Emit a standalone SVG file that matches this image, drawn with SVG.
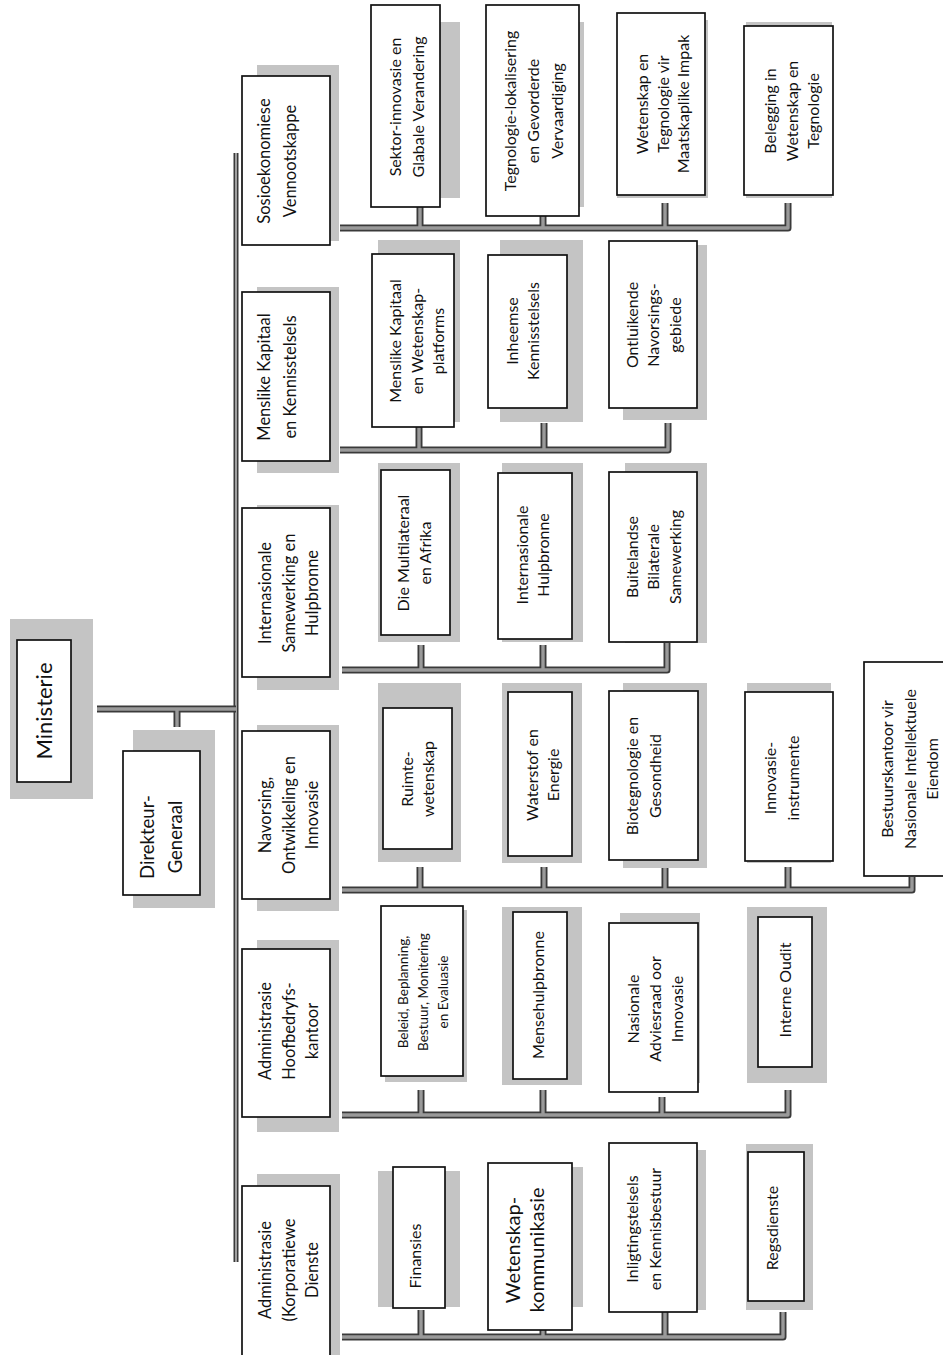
<svg xmlns="http://www.w3.org/2000/svg" xmlns:xlink="http://www.w3.org/1999/xlink" width="943" height="1355" viewBox="0 0 943 1355">
<style>
.bg{fill:#fff}
.box{fill:#fff;stroke:#111;stroke-width:1.7}
.sh{fill:#c4c4c4}
.t{font-family:Lato,"Liberation Sans",sans-serif;fill:#111;text-anchor:middle}
.c{font-size:16px}
.l1{font-size:16.5px}
.co{fill:none;stroke:#3a3a3a;stroke-width:7;stroke-linejoin:round}
.ci{fill:none;stroke:#9a9a9a;stroke-width:3.4;stroke-linejoin:round}
.tro{fill:none;stroke:#3a3a3a;stroke-width:5}
.tri{fill:none;stroke:#a0a0a0;stroke-width:2}
</style>
<defs>
<path id="lines" d="M97,709 H236 M177,709 V727
M340,228 H788 V203 M420,207 V228 M543,216 V228 M665,203 V228
M340,450 H668 V423 M419,427 V450 M544,423 V450
M342,670 H667 V643 M421,645 V670 M543,645 V670
M342,890 H912 V877 M420,867 V890 M544,867 V890 M665,867 V890 M788,867 V890
M342,1115 H788 V1090 M421,1090 V1115 M543,1090 V1115 M662,1097 V1115
M342,1337 H783 V1312 M421,1310 V1337 M543,1330 V1337 M665,1312 V1337"/>
<path id="trunk" d="M236,153 V1262"/>
</defs>
<rect class="bg" x="0" y="0" width="943" height="1355"/>

<g id="connectors">
<use xlink:href="#trunk" class="tro"/>
<use xlink:href="#trunk" class="tri"/>
<use xlink:href="#lines" class="co"/>
<use xlink:href="#lines" class="ci"/>
</g>

<g id="ministerie">
<rect class="sh" x="10" y="619" width="83" height="180"/>
<rect class="box" x="17" y="640" width="54" height="142"/>
<text class="t" style="font-size:22px" transform="translate(0,711) rotate(-90)"><tspan x="0" y="51.7">Ministerie</tspan></text>
</g>

<g id="direkteur-generaal">
<rect class="sh" x="133" y="730" width="82" height="178"/>
<rect class="box" x="123" y="751" width="77" height="144"/>
<text class="t" style="font-size:18.5px" transform="translate(0,837) rotate(-90)"><tspan x="0" y="153.5">Direkteur-</tspan><tspan x="0" y="181.5">Generaal</tspan></text>
</g>

<!-- Level 1 -->
<g id="sosioekonomiese">
<rect class="sh" x="257" y="65" width="82" height="176"/>
<rect class="box" x="242" y="76" width="88" height="169"/>
<text class="t l1" transform="translate(0,161) rotate(-90)"><tspan x="0" y="269.8">Sosioekonomiese</tspan><tspan x="0" y="295.8">Vennootskappe</tspan></text>
</g>

<g id="menslike-kapitaal">
<rect class="sh" x="257" y="287" width="82" height="186"/>
<rect class="box" x="242" y="292" width="88" height="169"/>
<text class="t l1" transform="translate(0,377) rotate(-90)"><tspan x="0" y="269.8">Menslike Kapitaal</tspan><tspan x="0" y="295.8">en Kennisstelsels</tspan></text>
</g>

<g id="internasionale-samewerking">
<rect class="sh" x="257" y="505" width="82" height="185"/>
<rect class="box" x="242" y="508" width="88" height="169"/>
<text class="t l1" transform="translate(0,593) rotate(-90)"><tspan x="0" y="270.8">Internasionale</tspan><tspan x="0" y="294.8">Samewerking en</tspan><tspan x="0" y="317.8">Hulpbronne</tspan></text>
</g>

<g id="navorsing">
<rect class="sh" x="257" y="725" width="82" height="186"/>
<rect class="box" x="242" y="731" width="88" height="168"/>
<text class="t l1" transform="translate(0,815) rotate(-90)"><tspan x="0" y="270.8">Navorsing,</tspan><tspan x="0" y="294.8">Ontwikkeling en</tspan><tspan x="0" y="317.8">Innovasie</tspan></text>
</g>

<g id="administrasie-hoofbedryfskantoor">
<rect class="sh" x="257" y="940" width="82" height="192"/>
<rect class="box" x="242" y="949" width="88" height="168"/>
<text class="t l1" transform="translate(0,1031) rotate(-90)"><tspan x="0" y="270.8">Administrasie</tspan><tspan x="0" y="294.8">Hoofbedryfs-</tspan><tspan x="0" y="317.8">kantoor</tspan></text>
</g>

<g id="administrasie-korporatiewe">
<rect class="sh" x="257" y="1174" width="83" height="181"/>
<rect class="box" x="242" y="1186" width="88" height="172"/>
<text class="t l1" transform="translate(0,1270) rotate(-90)"><tspan x="0" y="270.8">Administrasie</tspan><tspan x="0" y="294.8">(Korporatiewe</tspan><tspan x="0" y="317.8">Dienste</tspan></text>
</g>

<!-- Sosio children -->
<g id="sektor-innovasie">
<rect class="sh" x="380" y="22" width="80" height="176"/>
<rect class="box" x="371" y="5" width="69" height="202"/>
<text class="t c" transform="translate(0,107) rotate(-90)"><tspan x="0" y="400.6">Sektor-innovasie en</tspan><tspan x="0" y="423.6">Glabale Verandering</tspan></text>
</g>

<g id="tegnologie-lokalisering">
<rect class="sh" x="490" y="22" width="94" height="185"/>
<rect class="box" x="486" y="5" width="93" height="211"/>
<text class="t c" transform="translate(0,111) rotate(-90)"><tspan x="0" y="515.6">Tegnologie-lokalisering</tspan><tspan x="0" y="538.6">en Gevorderde</tspan><tspan x="0" y="562.6">Vervaardiging</tspan></text>
</g>

<g id="maatskaplike-impak">
<rect class="sh" x="617" y="20" width="91" height="178"/>
<rect class="box" x="617" y="13" width="88" height="182"/>
<text class="t c" transform="translate(0,104) rotate(-90)"><tspan x="0" y="647.6">Wetenskap en</tspan><tspan x="0" y="668.6">Tegnologie vir</tspan><tspan x="0" y="688.6">Maatskaplike Impak</tspan></text>
</g>

<g id="belegging">
<rect class="sh" x="746" y="22" width="86" height="176"/>
<rect class="box" x="744" y="26" width="89" height="169"/>
<text class="t c" transform="translate(0,111) rotate(-90)"><tspan x="0" y="775.6">Belegging in</tspan><tspan x="0" y="797.6">Wetenskap en</tspan><tspan x="0" y="818.6">Tegnologie</tspan></text>
</g>

<!-- Menslike children -->
<g id="wetenskap-platforms">
<rect class="sh" x="378" y="240" width="82" height="182"/>
<rect class="box" x="372" y="254" width="82" height="173"/>
<text class="t c" transform="translate(0,341) rotate(-90)"><tspan x="0" y="400.6">Menslike Kapitaal</tspan><tspan x="0" y="422.6">en Wetenskap-</tspan><tspan x="0" y="443.6">platforms</tspan></text>
</g>

<g id="inheemse-kennisstelsels">
<rect class="sh" x="500" y="240" width="83" height="182"/>
<rect class="box" x="488" y="255" width="79" height="153"/>
<text class="t c" transform="translate(0,331) rotate(-90)"><tspan x="0" y="517.6">Inheemse</tspan><tspan x="0" y="538.6">Kennisstelsels</tspan></text>
</g>

<g id="ontluikende-navorsingsgebiede">
<rect class="sh" x="623" y="245" width="84" height="175"/>
<rect class="box" x="609" y="241" width="88" height="167"/>
<text class="t c" transform="translate(0,325) rotate(-90)"><tspan x="0" y="637.6">Ontluikende</tspan><tspan x="0" y="658.6">Navorsings-</tspan><tspan x="0" y="680.6">gebiede</tspan></text>
</g>

<!-- Internasionale children -->
<g id="multilateraal-afrika">
<rect class="sh" x="378" y="463" width="82" height="179"/>
<rect class="box" x="381" y="470" width="69" height="165"/>
<text class="t c" transform="translate(0,553) rotate(-90)"><tspan x="0" y="408.6">Die Multilateraal</tspan><tspan x="0" y="430.6">en Afrika</tspan></text>
</g>

<g id="internasionale-hulpbronne">
<rect class="sh" x="502" y="463" width="81" height="179"/>
<rect class="box" x="498" y="473" width="74" height="166"/>
<text class="t c" transform="translate(0,555) rotate(-90)"><tspan x="0" y="527.6">Internasionale</tspan><tspan x="0" y="548.6">Hulpbronne</tspan></text>
</g>

<g id="buitelandse-bilaterale">
<rect class="sh" x="625" y="463" width="82" height="180"/>
<rect class="box" x="609" y="472" width="88" height="170"/>
<text class="t c" transform="translate(0,557) rotate(-90)"><tspan x="0" y="637.6">Buitelandse</tspan><tspan x="0" y="658.6">Bilaterale</tspan><tspan x="0" y="680.6">Samewerking</tspan></text>
</g>

<!-- Navorsing children -->
<g id="ruimte-wetenskap">
<rect class="sh" x="378" y="683" width="83" height="179"/>
<rect class="box" x="383" y="708" width="69" height="141"/>
<text class="t c" transform="translate(0,779) rotate(-90)"><tspan x="0" y="412.6">Ruimte-</tspan><tspan x="0" y="433.6">wetenskap</tspan></text>
</g>

<g id="waterstof-energie">
<rect class="sh" x="502" y="683" width="80" height="180"/>
<rect class="box" x="508" y="692" width="64" height="164"/>
<text class="t c" transform="translate(0,775) rotate(-90)"><tspan x="0" y="537.6">Waterstof en</tspan><tspan x="0" y="558.6">Energie</tspan></text>
</g>

<g id="biotegnologie-gesondheid">
<rect class="sh" x="623" y="683" width="84" height="185"/>
<rect class="box" x="609" y="691" width="89" height="169"/>
<text class="t c" transform="translate(0,776) rotate(-90)"><tspan x="0" y="637.6">Biotegnologie en</tspan><tspan x="0" y="660.6">Gesondheid</tspan></text>
</g>

<g id="innovasie-instrumente">
<rect class="sh" x="747" y="683" width="84" height="180"/>
<rect class="box" x="745" y="692" width="88" height="169"/>
<text class="t c" transform="translate(0,778) rotate(-90)"><tspan x="0" y="775.6">Innovasie-</tspan><tspan x="0" y="798.6">instrumente</tspan></text>
</g>

<g id="bestuurskantoor">
<rect class="box" x="864" y="662" width="84" height="214"/>
<text class="t c" transform="translate(0,769) rotate(-90)"><tspan x="0" y="892.6">Bestuurskantoor vir</tspan><tspan x="0" y="915.6">Nasionale Intellektuele</tspan><tspan x="0" y="937.6">Eiendom</tspan></text>
</g>

<!-- Admin Hoofbedryfs children -->
<g id="beleid-beplanning">
<rect class="sh" x="385" y="910" width="82" height="172"/>
<rect class="box" x="381" y="906" width="82" height="170"/>
<text class="t" style="font-size:13.5px" transform="translate(0,992) rotate(-90)"><tspan x="0" y="407.7">Beleid, Beplanning,</tspan><tspan x="0" y="427.7">Bestuur, Monitering</tspan><tspan x="0" y="447.7">en Evaluasie</tspan></text>
</g>

<g id="mensehulpbronne">
<rect class="sh" x="502" y="907" width="80" height="178"/>
<rect class="box" x="513" y="912" width="54" height="167"/>
<text class="t c" transform="translate(0,995) rotate(-90)"><tspan x="0" y="543.6">Mensehulpbronne</tspan></text>
</g>

<g id="nasionale-adviesraad">
<rect class="sh" x="620" y="913" width="80" height="170"/>
<rect class="box" x="609" y="923" width="89" height="169"/>
<text class="t c" transform="translate(0,1009) rotate(-90)"><tspan x="0" y="638.6">Nasionale</tspan><tspan x="0" y="660.6">Adviesraad oor</tspan><tspan x="0" y="682.6">Innovasie</tspan></text>
</g>

<g id="interne-oudit">
<rect class="sh" x="747" y="907" width="80" height="176"/>
<rect class="box" x="758" y="917" width="54" height="150"/>
<text class="t c" transform="translate(0,990) rotate(-90)"><tspan x="0" y="790.6">Interne Oudit</tspan></text>
</g>

<!-- Admin Korporatiewe children -->
<g id="finansies">
<rect class="sh" x="378" y="1171" width="82" height="136"/>
<rect class="box" x="393" y="1167" width="52" height="141"/>
<text class="t c" transform="translate(0,1256) rotate(-90)"><tspan x="0" y="420.6">Finansies</tspan></text>
</g>

<g id="wetenskapkommunikasie">
<rect class="sh" x="500" y="1167" width="83" height="140"/>
<rect class="box" x="488" y="1163" width="84" height="167"/>
<text class="t" style="font-size:20px" transform="translate(0,1250) rotate(-90)"><tspan x="0" y="520">Wetenskap-</tspan><tspan x="0" y="544">kommunikasie</tspan></text>
</g>

<g id="inligtingstelsels">
<rect class="sh" x="615" y="1150" width="91" height="160"/>
<rect class="box" x="609" y="1143" width="88" height="169"/>
<text class="t c" transform="translate(0,1229) rotate(-90)"><tspan x="0" y="637.6">Inligtingstelsels</tspan><tspan x="0" y="660.6">en Kennisbestuur</tspan></text>
</g>

<g id="regsdienste">
<rect class="sh" x="746" y="1144" width="67" height="166"/>
<rect class="box" x="748" y="1152" width="56" height="149"/>
<text class="t c" transform="translate(0,1228) rotate(-90)"><tspan x="0" y="777.6">Regsdienste</tspan></text>
</g>
</svg>
